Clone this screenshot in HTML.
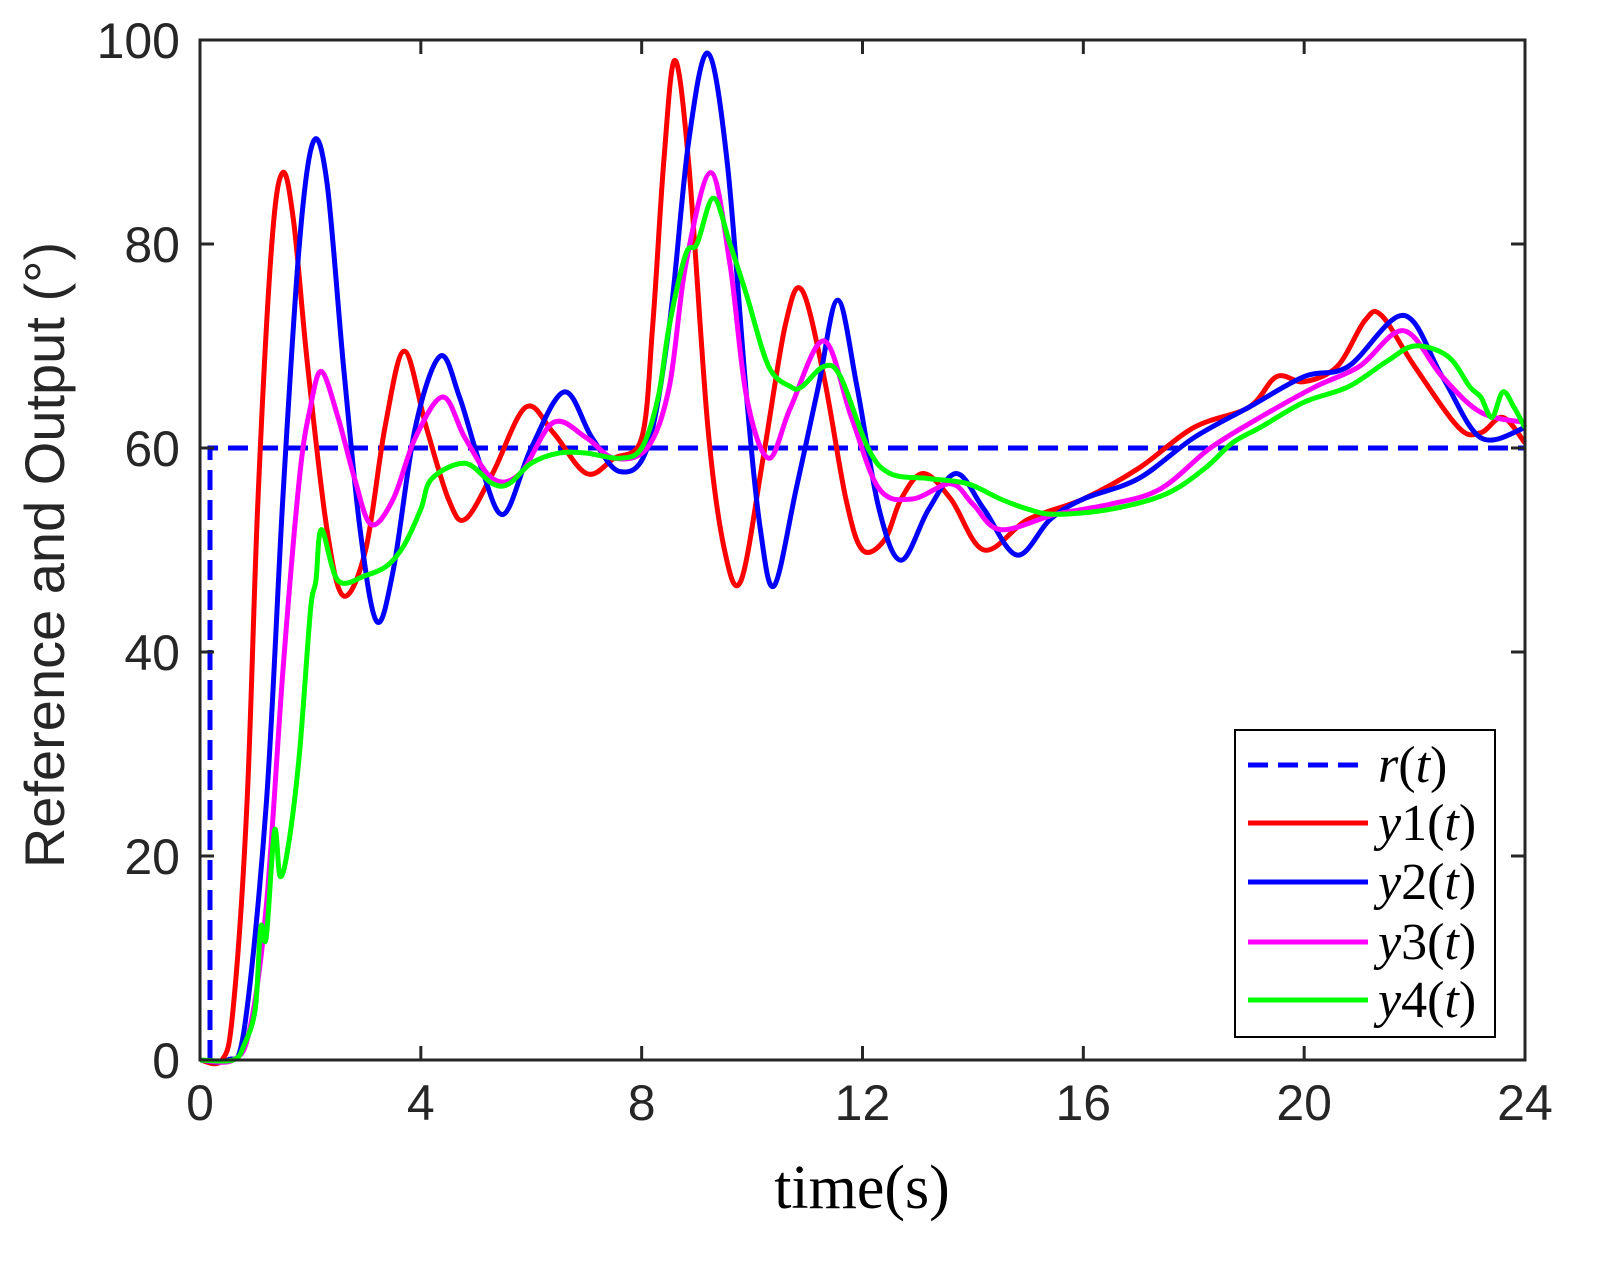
<!DOCTYPE html>
<html><head><meta charset="utf-8"><style>
html,body{margin:0;padding:0;background:#fff;}
svg{display:block;}
</style></head><body>
<svg id="s" width="1605" height="1267" xmlns="http://www.w3.org/2000/svg">
<rect width="1605" height="1267" fill="#fff"/>
<g id="plot"></g>
<rect x="200" y="40" width="1325" height="1020" fill="none" stroke="#262626" stroke-width="3"/>
<g id="ticks" stroke="#262626" stroke-width="3"></g>
<g font-family="Liberation Sans, sans-serif" font-size="50" fill="#262626" id="tl"></g>
<text transform="translate(64,555) rotate(-90)" text-anchor="middle" font-family="Liberation Sans, sans-serif" font-size="56" fill="#262626">Reference and Output (°)</text>
<text x="862" y="1208" text-anchor="middle" font-family="Liberation Serif, serif" font-size="62" fill="#000">time(s)</text>
<rect x="1235" y="730" width="260" height="307" fill="#fff" stroke="#000" stroke-width="2"/>
<g stroke-width="5" fill="none">
<line x1="1248" y1="765" x2="1368" y2="765" stroke="#0000ff" stroke-dasharray="20,10"/>
<line x1="1248" y1="823" x2="1368" y2="823" stroke="#ff0000"/>
<line x1="1248" y1="882" x2="1368" y2="882" stroke="#0000ff"/>
<line x1="1248" y1="942" x2="1368" y2="942" stroke="#ff00ff"/>
<line x1="1248" y1="1000" x2="1368" y2="1000" stroke="#00ff00"/>
</g>
<g font-family="Liberation Serif, serif" font-size="52" fill="#000">
<text x="1378" y="782"><tspan font-style="italic">r</tspan>(<tspan font-style="italic">t</tspan>)</text>
<text x="1378" y="840"><tspan font-style="italic">y</tspan>1(<tspan font-style="italic">t</tspan>)</text>
<text x="1378" y="899"><tspan font-style="italic">y</tspan>2(<tspan font-style="italic">t</tspan>)</text>
<text x="1378" y="959"><tspan font-style="italic">y</tspan>3(<tspan font-style="italic">t</tspan>)</text>
<text x="1378" y="1017"><tspan font-style="italic">y</tspan>4(<tspan font-style="italic">t</tspan>)</text>
</g>
</svg>
<script>
const X=t=>200+t*55.208, Y=v=>1060-v*10.2;
function path(pts){
 const p=pts.map(([t,v])=>[X(t),Y(v)]);
 let d=`M${p[0][0]},${p[0][1]}`;
 for(let i=0;i<p.length-1;i++){
  const p0=p[Math.max(0,i-1)],p1=p[i],p2=p[i+1],p3=p[Math.min(p.length-1,i+2)];
  const c1=[p1[0]+(p2[0]-p0[0])/6,p1[1]+(p2[1]-p0[1])/6];
  const c2=[p2[0]-(p3[0]-p1[0])/6,p2[1]-(p3[1]-p1[1])/6];
  d+=`C${c1[0].toFixed(1)},${c1[1].toFixed(1)} ${c2[0].toFixed(1)},${c2[1].toFixed(1)} ${p2[0].toFixed(1)},${p2[1].toFixed(1)}`;
 }
 return d;
}
const g4=[[0,0],[0.6,0],[0.8,1.5],[1.0,5],[1.1,13],[1.2,12],[1.35,22.5],[1.45,18],[1.6,21],[1.8,30],[2.0,44],[2.1,47],[2.2,52],[2.5,47],[3.0,47.5],[3.4,48.5],[3.7,50.5],[4.0,54],[4.2,57],[4.8,58.5],[5.3,56.5],[5.6,56.5],[6.0,58.5],[6.5,59.5],[7.0,59.5],[7.6,59],[8.0,60],[8.3,65],[8.5,72],[8.8,79],[9.0,80],[9.3,84.5],[9.6,80],[9.9,75],[10.3,68],[10.7,66],[10.9,66],[11.3,68],[11.6,67],[12.1,60],[12.5,57.5],[13.2,57],[13.9,56.5],[14.5,55],[15,54],[15.5,53.5],[16.5,54],[17.5,55.5],[18.2,58],[18.7,60.5],[19.2,62],[20,64.5],[20.8,66],[21.5,68.5],[22,70],[22.6,69],[23,66],[23.2,65],[23.4,63],[23.6,65.5],[23.8,64],[24,62]];
const g3=[[0,0],[0.6,0],[0.9,3],[1.2,15],[1.5,38],[1.8,57],[2.0,64],[2.2,67.5],[2.5,63],[2.8,57],[3.1,52.5],[3.5,55],[3.9,61],[4.4,65],[4.8,61],[5.3,57],[5.8,57.5],[6.4,62.5],[7.0,61],[7.5,59],[8.1,60],[8.5,66],[8.8,78],[9.25,87],[9.6,78],[9.9,65],[10.3,59],[10.7,64],[11.3,70.5],[11.8,63],[12.3,56],[12.9,55],[13.6,56.5],[14.0,54.5],[14.5,52],[15.5,53.5],[16.5,54.5],[17.4,56],[18.3,60],[19.2,63],[20.2,66],[21,68],[21.8,71.5],[22.5,67],[23.2,63.5],[24,62.5]];
const g2=[[0,0],[0.5,0],[0.8,3],[1.2,25],[1.5,55],[1.8,80],[2.05,90],[2.3,86],[2.6,68],[2.9,52],[3.2,43],[3.5,48],[3.9,62],[4.35,69],[4.7,65],[5.1,58],[5.5,53.5],[6.0,60],[6.6,65.5],[7.1,61],[7.6,57.7],[8.1,60],[8.5,72],[8.85,90],[9.2,98.7],[9.55,88],[9.9,65],[10.15,52],[10.4,46.5],[10.8,56],[11.2,66],[11.55,74.5],[11.9,66],[12.3,54],[12.7,49],[13.2,54],[13.7,57.5],[14.2,54],[14.8,49.5],[15.4,53],[16,55],[17,57],[18,61],[19,64],[20,67],[20.8,68],[21.8,73],[22.5,67],[23.2,61],[24,62]];
const g1=[[0,0],[0.4,0],[0.6,5],[0.85,25],[1.05,55],[1.3,80],[1.5,87],[1.7,82],[1.95,68],[2.3,52],[2.6,45.5],[3.0,50],[3.35,62],[3.7,69.5],[4.1,62],[4.5,55],[4.8,53],[5.3,57.5],[5.9,64],[6.4,61.5],[7.0,57.5],[7.5,59],[8.0,61],[8.2,72],[8.4,88],[8.6,98],[8.85,88],[9.2,62],[9.5,50],[9.8,47],[10.2,59],[10.6,72],[10.9,75.5],[11.3,67],[11.7,55],[12.0,50],[12.4,51],[12.7,55],[13.1,57.5],[13.6,55],[14.2,50],[15,53],[16,55],[17,58],[18,62],[19,64],[19.5,67],[20,66.5],[20.6,68],[21.1,72.5],[21.4,73],[22,68],[22.8,62],[23.2,61.5],[23.6,63],[24,60.5]];
const plot=document.getElementById('plot');
let h='';
h+=`<path d="M210,1060 L210,448 L1525,448" fill="none" stroke="#0000ff" stroke-width="5" stroke-dasharray="20,10"/>`;
[[g1,'#ff0000'],[g2,'#0000ff'],[g3,'#ff00ff'],[g4,'#00ff00']].forEach(([d,c])=>{h+=`<path d="${path(d)}" fill="none" stroke="${c}" stroke-width="5" stroke-linejoin="round"/>`;});
plot.innerHTML=h;
let tk='',tl='';
for(let t=0;t<=24;t+=4){const x=X(t);tk+=`<line x1="${x}" y1="1060" x2="${x}" y2="1046"/><line x1="${x}" y1="40" x2="${x}" y2="54"/>`;tl+=`<text x="${x}" y="1120" text-anchor="middle">${t}</text>`;}
for(let v=0;v<=100;v+=20){const y=Y(v);tk+=`<line x1="200" y1="${y}" x2="214" y2="${y}"/><line x1="1525" y1="${y}" x2="1511" y2="${y}"/>`;tl+=`<text x="180" y="${y+18}" text-anchor="end">${v}</text>`;}
document.getElementById('ticks').innerHTML=tk;
document.getElementById('tl').innerHTML=tl;
</script>
</body></html>
